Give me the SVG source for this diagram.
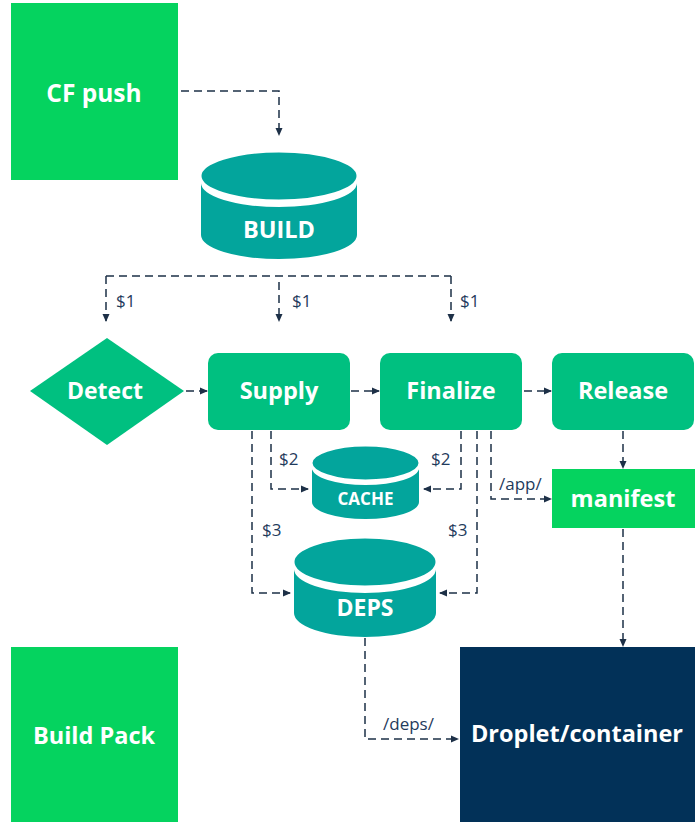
<svg xmlns="http://www.w3.org/2000/svg" width="700" height="822" viewBox="0 0 700 822">
  <defs>
    <marker id="arrow" viewBox="0 0 8 8" refX="7" refY="4" markerWidth="8" markerHeight="8" markerUnits="userSpaceOnUse" orient="auto">
      <path d="M0,0.5 L8,4 L0,7.5 Z" fill="#1d3047"/>
    </marker>
    <style>
      .bright { fill: #05d35f; }
      .step { fill: #00c080; }
      .store { fill: #03a59c; }
      .navy { fill: #023158; }
      .title { font-family: "Open Sans", "Liberation Sans", sans-serif; font-weight: 700; fill: #ffffff; text-anchor: middle; dominant-baseline: central; }
      .edge { fill: none; stroke: #1d3047; stroke-width: 1.5; stroke-dasharray: 8 5; marker-end: url(#arrow); }
      .edge-plain { fill: none; stroke: #1d3047; stroke-width: 1.5; stroke-dasharray: 8 5; }
      .tag { font-family: "Open Sans", "Liberation Sans", sans-serif; font-size: 17px; fill: #1f3b5c; dominant-baseline: central; }
      .gap { stroke: #ffffff; stroke-width: 3; }
    </style>
  </defs>

  <!-- connectors -->
  <g id="connectors">
    <path class="edge" d="M181,91 H279 V135"/>
    <path class="edge-plain" d="M106,276 H451"/>
    <path class="edge" d="M106,276 V321"/>
    <path class="edge" d="M279,282 V321"/>
    <path class="edge" d="M451,276 V321"/>
    <path class="edge" d="M186,391 H207"/>
    <path class="edge" d="M351,391 H379"/>
    <path class="edge" d="M524,391 H551"/>
    <path class="edge" d="M271,431 V489 H308"/>
    <path class="edge" d="M252,431 V593 H290"/>
    <path class="edge" d="M461,431 V489 H424"/>
    <path class="edge" d="M477,431 V593 H440"/>
    <path class="edge" d="M491,431 V499 H551"/>
    <path class="edge" d="M623,431 V468"/>
    <path class="edge" d="M623,529 V646"/>
    <path class="edge" d="M365,638 V739 H458"/>
    <text class="tag" x="116" y="300">$1</text>
    <text class="tag" x="292" y="300">$1</text>
    <text class="tag" x="460" y="300">$1</text>
    <text class="tag" x="279" y="458">$2</text>
    <text class="tag" x="431" y="458">$2</text>
    <text class="tag" x="262" y="529">$3</text>
    <text class="tag" x="448" y="529">$3</text>
    <text class="tag" x="499" y="483">/app/</text>
    <text class="tag" x="383" y="723">/deps/</text>
  </g>

  <g id="cf-push">
    <rect class="bright" x="11" y="3" width="167" height="177"/>
    <text class="title" x="94" y="92" font-size="24.5">CF push</text>
  </g>

  <g id="build">
    <path class="store" d="M201,183 A78,24 0 0 0 357,183 V235 A78,24 0 0 1 201,235 Z"/>
    <ellipse class="store gap" cx="279" cy="176" rx="79" ry="25"/>
    <text class="title" x="279" y="229" font-size="23.5">BUILD</text>
  </g>

  <g id="detect">
    <polygon class="step" points="30,391 107,338 184,391 107,445"/>
    <text class="title" x="105" y="390" font-size="23">Detect</text>
  </g>

  <g id="supply">
    <rect class="step" x="208" y="353" width="142" height="77" rx="10"/>
    <text class="title" x="279" y="390" font-size="23.5">Supply</text>
  </g>

  <g id="finalize">
    <rect class="step" x="380" y="353" width="142" height="77" rx="10"/>
    <text class="title" x="451" y="390" font-size="23.5">Finalize</text>
  </g>

  <g id="release">
    <rect class="step" x="552" y="353" width="142" height="77" rx="10"/>
    <text class="title" x="623" y="390" font-size="23.5">Release</text>
  </g>

  <g id="cache">
    <path class="store" d="M312,468 A53.5,17 0 0 0 419,468 V502 A53.5,17 0 0 1 312,502 Z"/>
    <ellipse class="store gap" cx="365.5" cy="463" rx="54.5" ry="18"/>
    <text class="title" x="365.5" y="498" font-size="17">CACHE</text>
  </g>

  <g id="deps">
    <path class="store" d="M294,569 A71,24 0 0 0 436,569 V613 A71,24 0 0 1 294,613 Z"/>
    <ellipse class="store gap" cx="365" cy="562" rx="72" ry="25"/>
    <text class="title" x="365" y="607" font-size="23">DEPS</text>
  </g>

  <g id="manifest">
    <rect class="bright" x="552" y="469" width="143" height="59"/>
    <text class="title" x="623" y="498" font-size="23.5">manifest</text>
  </g>

  <g id="build-pack">
    <rect class="bright" x="11" y="647" width="167" height="175"/>
    <text class="title" x="94" y="735" font-size="23.5">Build Pack</text>
  </g>

  <g id="droplet">
    <rect class="navy" x="460" y="647" width="235" height="175"/>
    <text class="title" x="577" y="733" font-size="23.5">Droplet/container</text>
  </g>
</svg>
